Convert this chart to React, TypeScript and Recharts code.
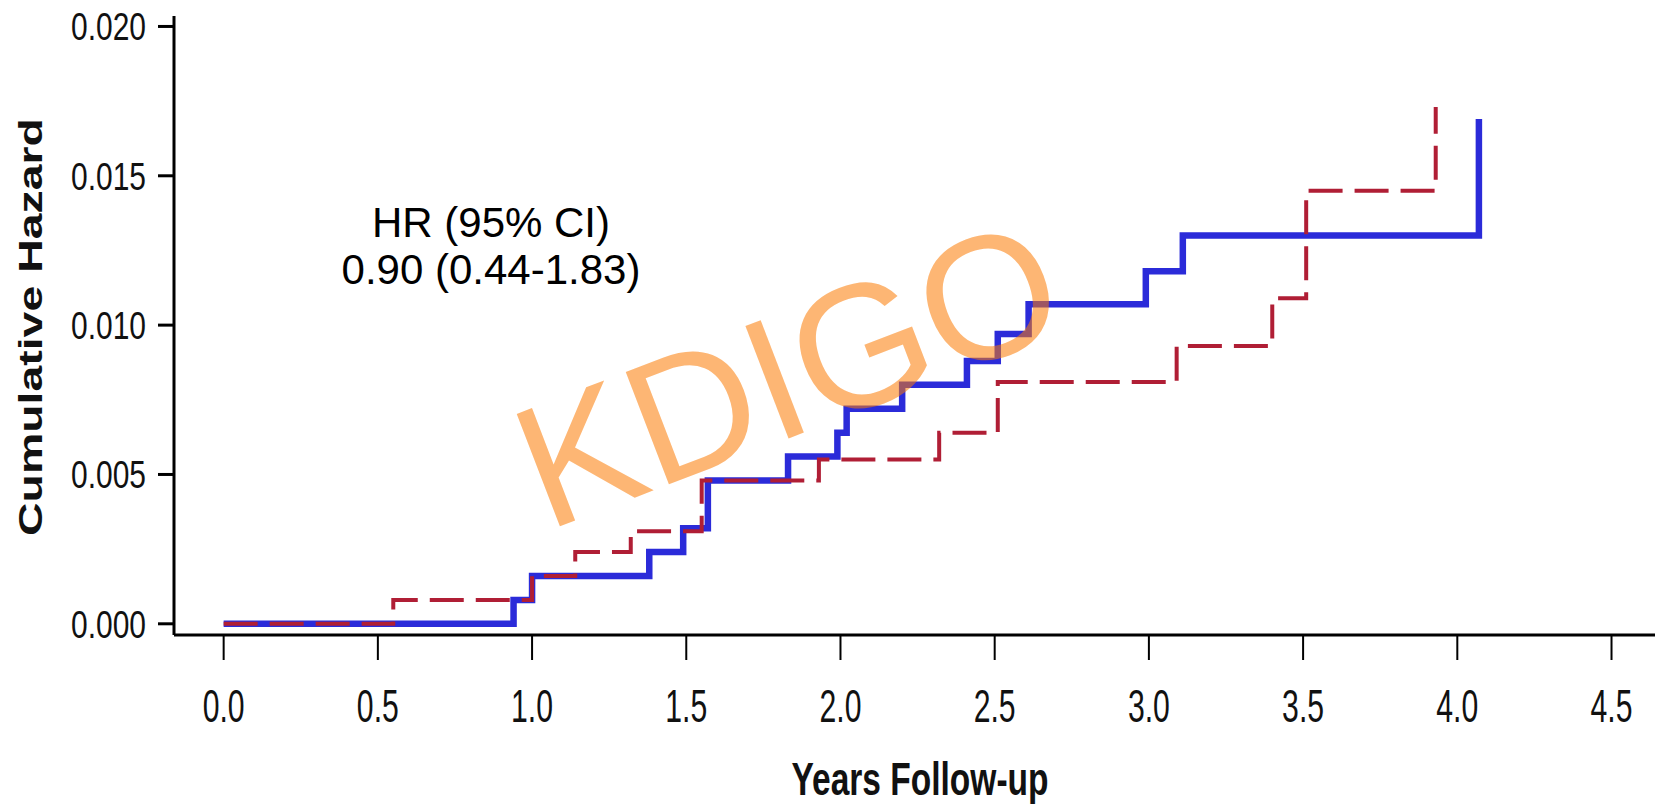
import { LineChart, Line, XAxis, YAxis } from 'recharts';

// follow-up times (years) and cumulative hazard
const blueTimes = [0, 0.94, 1.0, 1.38, 1.49, 1.57, 1.83, 1.99, 2.02, 2.2, 2.41, 2.51, 2.61, 2.99, 3.11, 4.07];
const blueHazard = [0, 0.0008, 0.0016, 0.0024, 0.0032, 0.0048, 0.0056, 0.0064, 0.0072, 0.008, 0.0088, 0.0097, 0.0107, 0.0118, 0.013, 0.0169];

const redTimes = [0, 0.55, 1.0, 1.14, 1.32, 1.55, 1.93, 2.32, 2.51, 3.09, 3.4, 3.51, 3.93];
const redHazard = [0, 0.0008, 0.0016, 0.0024, 0.0031, 0.0048, 0.0055, 0.0064, 0.0081, 0.0093, 0.0109, 0.0145, 0.0173];

const xTicks = [0, 0.5, 1, 1.5, 2, 2.5, 3, 3.5, 4, 4.5];
const yTicks = [0, 0.005, 0.01, 0.015, 0.02];

const hrLines = ['HR (95% CI)', '0.90 (0.44-1.83)'];

const FONT = '"Liberation Sans", Arial, sans-serif';

const blueData = blueTimes.map((t, i) => ({ t, h: blueHazard[i] }));
const redData = redTimes.map((t, i) => ({ t, h: redHazard[i] }));

function XTick(props: any) {
  const { x, y, payload } = props;
  return (
    <text
      x={x}
      y={y + 62}
      textAnchor="middle"
      fontFamily={FONT}
      fontSize={46}
      fill="#111"
      textLength={42}
      lengthAdjust="spacingAndGlyphs"
    >
      {Number(payload.value).toFixed(1)}
    </text>
  );
}

function YTick(props: any) {
  const { x, y, payload } = props;
  return (
    <text
      x={x - 75}
      y={y}
      dy="0.355em"
      textAnchor="start"
      fontFamily={FONT}
      fontSize={39}
      fill="#111"
      textLength={75}
      lengthAdjust="spacingAndGlyphs"
    >
      {Number(payload.value).toFixed(3)}
    </text>
  );
}

export default function App() {
  return (
    <div style={{ position: 'absolute', left: 0, top: 0, width: 1655, height: 804, background: '#fff' }}>
      <LineChart width={1655} height={804} margin={{ top: 16, right: 0, bottom: 0, left: 0 }}>
        <XAxis
          type="number"
          dataKey="t"
          domain={[-0.161, 4.641]}
          ticks={xTicks}
          allowDataOverflow
          height={169}
          tickSize={25}
          tickMargin={0}
          axisLine={{ stroke: '#000', strokeWidth: 3 }}
          tickLine={{ stroke: '#000', strokeWidth: 2 }}
          tick={<XTick />}
        />
        <YAxis
          type="number"
          dataKey="h"
          domain={[-0.000375, 0.02035]}
          ticks={yTicks}
          allowDataOverflow
          width={174}
          tickSize={16}
          tickMargin={12}
          axisLine={{ stroke: '#000', strokeWidth: 3 }}
          tickLine={{ stroke: '#000', strokeWidth: 3 }}
          tick={<YTick />}
        />
        <Line
          data={blueData}
          dataKey="h"
          type="stepAfter"
          stroke="#2b2bd9"
          strokeWidth={6.5}
          dot={false}
          isAnimationActive={false}
        />
        <Line
          data={redData}
          dataKey="h"
          type="stepAfter"
          stroke="#b01e35"
          strokeWidth={4}
          strokeDasharray="34 12"
          dot={false}
          isAnimationActive={false}
        />
      </LineChart>
      <svg
        width={1655}
        height={804}
        style={{ position: 'absolute', left: 0, top: 0, pointerEvents: 'none' }}
      >
        <text
          x={920}
          y={795}
          textAnchor="middle"
          fontFamily={FONT}
          fontWeight="bold"
          fontSize={46}
          fill="#111"
          textLength={257}
          lengthAdjust="spacingAndGlyphs"
        >
          Years Follow-up
        </text>
        <text
          x={0}
          y={0}
          transform="translate(41.5 327) rotate(-90)"
          textAnchor="middle"
          fontFamily={FONT}
          fontWeight="bold"
          fontSize={34}
          fill="#111"
          textLength={418}
          lengthAdjust="spacingAndGlyphs"
        >
          Cumulative Hazard
        </text>
        {hrLines.map((s, i) => (
          <text key={s} x={491} y={237 + i * 47} textAnchor="middle" fontFamily={FONT} fontSize={42} fill="#000">
            {s}
          </text>
        ))}
        <text
          x={546.5}
          y={531.4}
          transform="rotate(-21 546.5 531.4)"
          fontFamily={FONT}
          fontSize={175}
          fill="rgb(251,122,2)"
          fillOpacity={0.55}
        >
          KDIGO
        </text>
      </svg>
    </div>
  );
}
